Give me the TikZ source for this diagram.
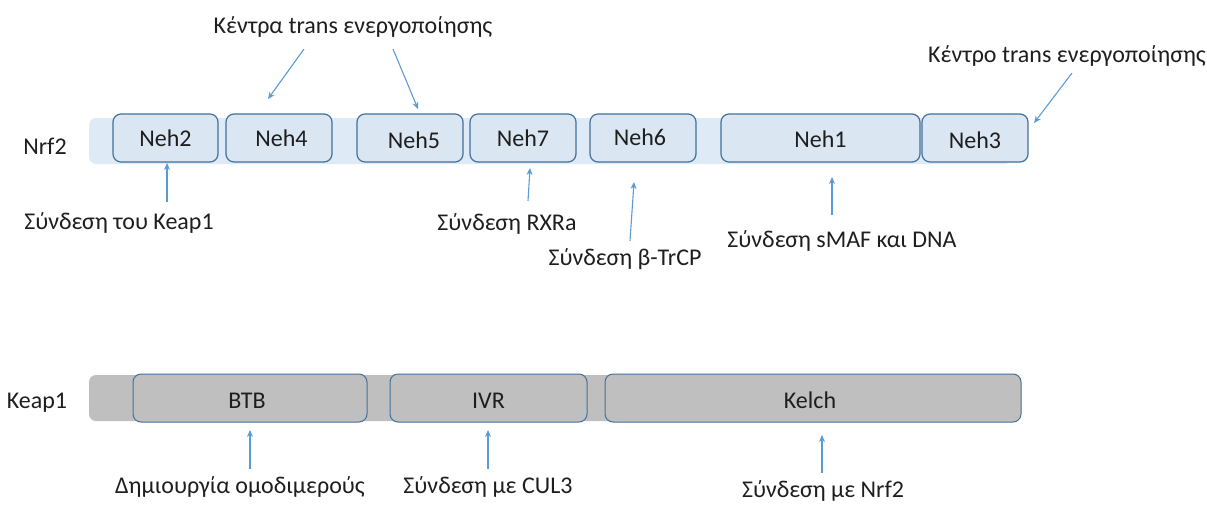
\documentclass[tikz,border=0pt]{standalone}
\usepackage{fontspec}
\setmainfont{Carlito}
\usetikzlibrary{arrows.meta}
\definecolor{boxfill}{HTML}{DAE6F2}
\definecolor{barfill}{HTML}{DEEBF7}
\definecolor{boxline}{HTML}{41719C}
\definecolor{arrowcol}{HTML}{5B9BD5}
\definecolor{greyfill}{HTML}{BFBFBF}
\definecolor{txt}{HTML}{1E1E1E}
\tikzset{
  every node/.style={font=\fontsize{24}{29}\selectfont, text=txt},
  nbox/.style={draw=boxline, line width=1.2pt, fill=boxfill, rounded corners=8pt,
    minimum height=48pt, inner sep=0pt, text height=16pt, text depth=0pt, anchor=center},
  kbox/.style={draw=boxline, line width=1pt, fill=greyfill, rounded corners=8pt,
    minimum height=48pt, inner sep=0pt, text height=20pt, text depth=0pt, anchor=center},
  lbl/.style={anchor=base, inner sep=0pt},
  arr/.style={draw=arrowcol, line width=1.1pt, -{Stealth[length=7pt,width=6pt]}},
}
\begin{document}
\begin{tikzpicture}[x=1pt,y=-1pt]
\useasboundingbox (0,0) rectangle (1207,504);
% ---- Nrf2 row ----
\node[lbl] (nrf2lbl) at (45,154) {Nrf2};
\node[fill=barfill, rounded corners=7pt, minimum width=923pt, minimum height=46pt, inner sep=0pt] (nrfbar) at (550.5,141) {};
\node[nbox, minimum width=105pt] (neh2) at (165.5,138) {Neh2};
\node[nbox, minimum width=106pt] (neh4) at (279,138) {\hspace*{5pt}Neh4};
\node[nbox, minimum width=106pt] (neh5) at (410,138) {\raisebox{-2pt}{\hspace*{8pt}Neh5}};
\node[nbox, minimum width=106pt] (neh7) at (523,138) {Neh7};
\node[nbox, minimum width=106pt] (neh6) at (643,138) {\raisebox{1pt}{Neh6\hspace*{6pt}}};
\node[nbox, minimum width=199pt] (neh1) at (820.5,138) {\raisebox{-1pt}{Neh1}};
\node[nbox, minimum width=106pt] (neh3) at (975,138) {\raisebox{-2pt}{Neh3}};
% labels
\node[lbl] (trans1) at (353,33) {Κέντρα trans ενεργοποίησης};
\node[lbl] (trans2) at (1067,62) {Κέντρο trans ενεργοποίησης};
\node[lbl] (keapbind) at (119,229) {Σύνδεση του Keap1};
\node[lbl] (rxra) at (507,230) {Σύνδεση RXRa};
\node[lbl] (btrcp) at (625,265) {Σύνδεση β-TrCP};
\node[lbl] (smaf) at (842,247) {Σύνδεση sMAF και DNA};
% arrow ends
\coordinate (t1) at (304,49);   \coordinate (h1) at (268,99);
\coordinate (t2) at (393,49);   \coordinate (h2) at (418,109);
\coordinate (t3) at (1072,73);  \coordinate (h3) at (1034,123);
\coordinate (t4) at (167,202);  \coordinate (h4) at (167,163);
\coordinate (t5) at (528,201);  \coordinate (h5) at (530,168);
\coordinate (t6) at (630,241);  \coordinate (h6) at (634,182);
\coordinate (t7) at (832,215);  \coordinate (h7) at (832,177);
\draw[arr] (t1) -- (h1);
\draw[arr] (t2) -- (h2);
\draw[arr] (t3) -- (h3);
\draw[arr] (t4) -- (h4);
\draw[arr] (t5) -- (h5);
\draw[arr] (t6) -- (h6);
\draw[arr] (t7) -- (h7);
% ---- Keap1 row ----
\node[lbl] (keaplbl) at (37,408) {Keap1};
\node[fill=greyfill, rounded corners=7pt, minimum width=932pt, minimum height=46pt, inner sep=0pt] (keapbar) at (555,398) {};
\node[kbox, minimum width=234pt] (btb) at (250,398) {\hspace*{-6pt}BTB};
\node[kbox, minimum width=197pt] (ivr) at (488.5,398) {IVR};
\node[kbox, minimum width=416pt] (kelch) at (813,398) {\hspace*{-6pt}Kelch};
\node[lbl] (homo) at (240,493) {Δημιουργία ομοδιμερούς};
\node[lbl] (cul3) at (488,493) {Σύνδεση με CUL3};
\node[lbl] (nrfb) at (823,497) {Σύνδεση με Nrf2};
\coordinate (t8) at (250,469);  \coordinate (h8) at (250,430);
\coordinate (t9) at (488,469);  \coordinate (h9) at (488,430);
\coordinate (t10) at (822,473); \coordinate (h10) at (822,435);
\draw[arr] (t8) -- (h8);
\draw[arr] (t9) -- (h9);
\draw[arr] (t10) -- (h10);
\end{tikzpicture}
\end{document}
